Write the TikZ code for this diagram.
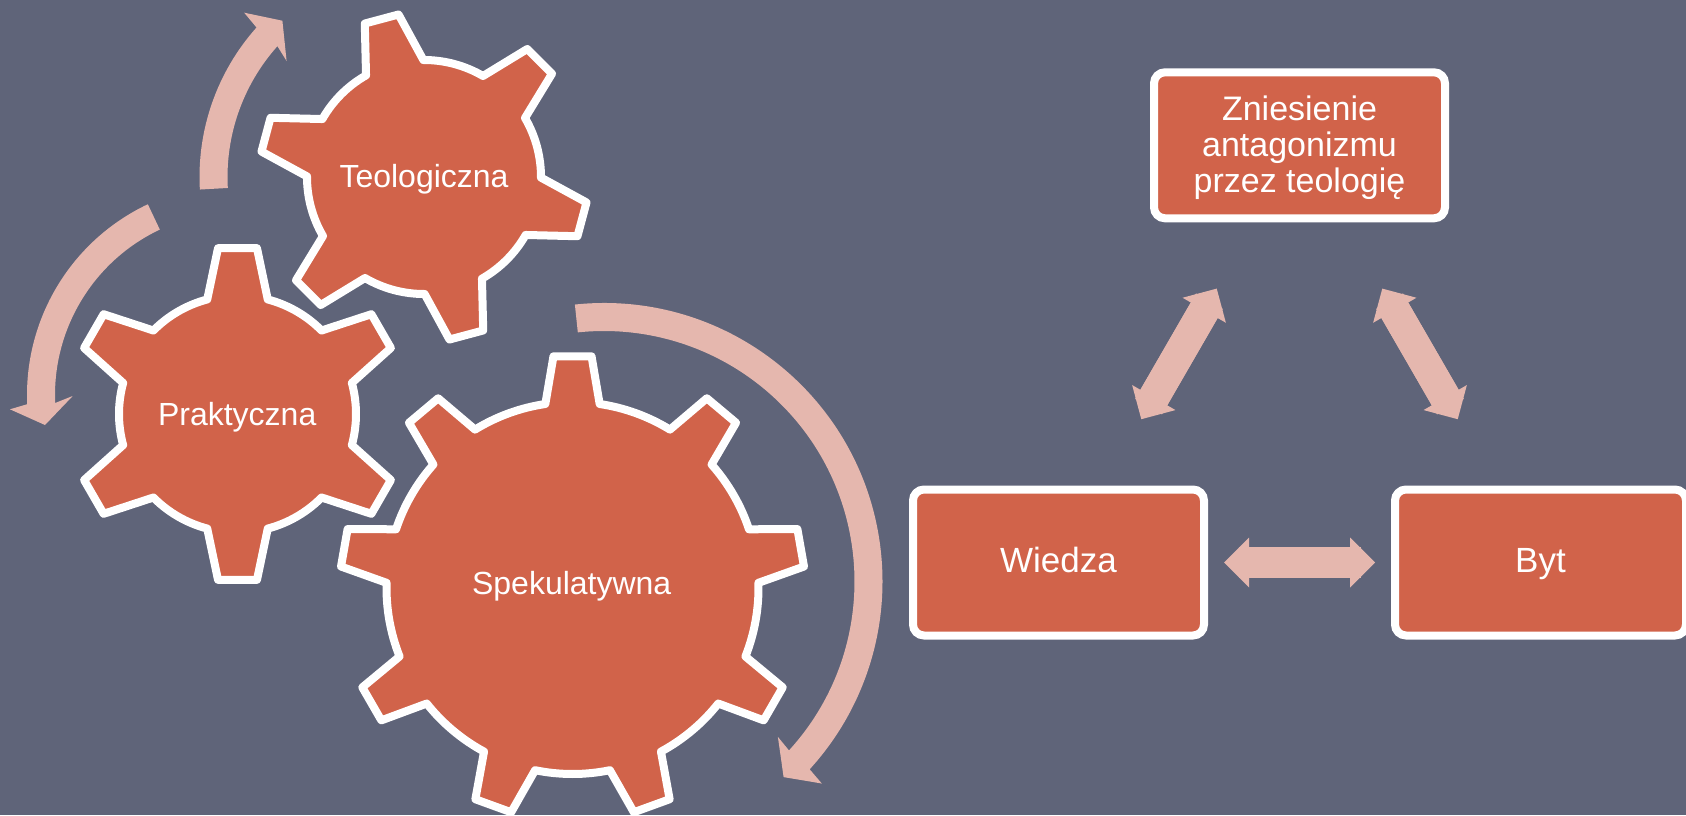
\documentclass[tikz,border=0pt]{standalone}
\usepackage{fontspec}
\setmainfont{Liberation Sans}
\usetikzlibrary{arrows.meta,calc}
\definecolor{bgslate}{RGB}{95,100,121}
\definecolor{rust}{RGB}{209,99,74}
\definecolor{blush}{RGB}{229,183,174}
\tikzset{
  gearbody/.style={fill=rust,draw=white,line width=8,line join=round},
  gearlabel/.style={text=white,anchor=base,font=\fontsize{32}{36}\selectfont},
  boxnode/.style={rounded corners=11,fill=rust,draw=white,line width=8,minimum width=291,minimum height=146,inner sep=0,text=white,font=\fontsize{34}{36}\selectfont,align=center},
  onelinebox/.style={boxnode,font=\fontsize{35}{36}\selectfont,text height=24,text depth=3.6},
  blockarc/.style={fill=blush,draw=none},
  twoway/.style={draw=blush,line width=31,
    preaction={draw=blush,line width=31,-,shorten <=180,shorten >=180},
    {Triangle[length=25,width=50,line width=0]}-{Triangle[length=25,width=50,line width=0]},shorten <=165.5,shorten >=165.5},
}
% cx cy teeth rot R Rt base-half tip-half last-index
\newcommand\gearpath[9]{%
  \draw[gearbody,shift={(#1,#2)}] (#4-#7:#5)
    \foreach \k [evaluate=\k as \a using {#4+\k*360/#3}] in {0,...,#9}{
      -- (\a-#7:#5) -- (\a-#8:#6) -- (\a+#8:#6) -- (\a+#7:#5)
      arc[start angle=\a+#7,end angle=\a+360/#3-#7,radius=#5]
    } -- cycle;
}
% cx cy Ro Ri a0 a1 head-path a1
\newcommand\curvedarrow[8]{%
  \fill[blockarc] ($(#1,#2)+(#5:#3)$) arc[start angle=#5,end angle=#6,radius=#3]
    -- #7 arc[start angle=#8,end angle=#5,radius=#4] -- cycle;
}
\begin{document}
\begin{tikzpicture}[x=1pt,y=1pt,yscale=-1]
\useasboundingbox (0,0) rectangle (1686,815);
\clip (0,0) rectangle (1686,815);
\fill[bgslate] (0,0) rectangle (1686,815);

% gears
\gearpath{424}{177}{6}{15}{117}{164.5}{14.7}{6.1}{5}
\node[gearlabel] (teo) at (424,187.5) {Teologiczna};
\gearpath{237.5}{414}{6}{30}{118.5}{167}{14.8}{6.7}{5}
\node[gearlabel] (prak) at (237.2,425) {Praktyczna};
\gearpath{572.5}{588}{9}{270}{186}{232.5}{8.4}{4.7}{8}
\node[gearlabel] (spek) at (571.7,594) {Spekulatywna};

% curved block arrows
\curvedarrow{424}{177}{224.5}{196.5}{176.8}{221.75}{(244.2,12.7) -- (282.4,20.7) -- (286.6,61) -- ($(424,177)+(221.75:196.5)$)}{221.75}
\curvedarrow{238}{395}{211}{183}{244.7}{177.5}{(10,409.3) -- (45,425) -- (72.7,396) -- ($(238,395)+(177.5:183)$)}{177.5}
\curvedarrow{604}{581.5}{278.5}{250.5}{264}{402.4}{(821.8,783.5) -- (783.6,777.1) -- (777.9,736.9) -- ($(604,581.5)+(42.4:250.5)$)}{402.4}

% boxes
\node[boxnode] (zn) at (1299.5,145.3) {\rule{0pt}{29pt}Zniesienie\\antagonizmu\\przez teologię};
\node[onelinebox] (wiedza) at (1058.5,562.5) {Wiedza};
\node[onelinebox] (byt) at (1540.5,562.5) {Byt};

% connectors
\draw[twoway] (zn.center) -- (wiedza.center);
\draw[twoway] (zn.center) -- (byt.center);
\draw[twoway] (wiedza.center) -- (byt.center);
\end{tikzpicture}
\end{document}
